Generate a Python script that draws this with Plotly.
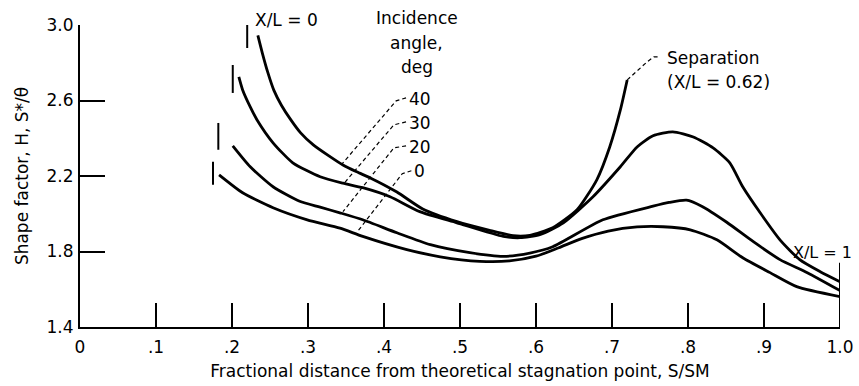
import plotly.graph_objects as go

FONT = "DejaVu Sans, sans-serif"
FS = 17

# ---- data ----
s40 = [0.234, 0.240, 0.247, 0.255, 0.265, 0.277, 0.290, 0.307, 0.328, 0.346, 0.364, 0.382,
       0.417, 0.451, 0.496, 0.539, 0.570, 0.592, 0.622, 0.654, 0.680, 0.697, 0.711, 0.720]
h40 = [2.945, 2.850, 2.750, 2.655, 2.575, 2.500, 2.430, 2.365, 2.305, 2.258, 2.222, 2.190,
       2.115, 2.025, 1.958, 1.912, 1.884, 1.886, 1.926, 2.021, 2.180, 2.354, 2.550, 2.709]

s30 = [0.209, 0.214, 0.224, 0.233, 0.254, 0.280, 0.316, 0.346, 0.372, 0.408, 0.447, 0.496,
       0.557, 0.579, 0.605, 0.636, 0.675, 0.711, 0.733, 0.754, 0.780, 0.807, 0.833, 0.855,
       0.872, 0.895, 0.921, 0.947, 0.974, 1.000]
h30 = [2.725, 2.656, 2.566, 2.497, 2.376, 2.270, 2.196, 2.162, 2.138, 2.090, 2.011, 1.952,
       1.880, 1.873, 1.889, 1.952, 2.090, 2.249, 2.354, 2.413, 2.434, 2.407, 2.349, 2.270,
       2.143, 2.005, 1.862, 1.757, 1.693, 1.640]

s20 = [0.201, 0.224, 0.254, 0.289, 0.316, 0.342, 0.372, 0.417, 0.461, 0.513, 0.557, 0.592,
       0.622, 0.688, 0.754, 0.775, 0.798, 0.818, 0.851, 0.886, 0.921, 0.957, 1.000]
h20 = [2.360, 2.249, 2.143, 2.066, 2.035, 2.005, 1.968, 1.899, 1.836, 1.794, 1.774, 1.792,
       1.825, 1.968, 2.040, 2.060, 2.072, 2.040, 1.955, 1.852, 1.757, 1.688, 1.593]

s0 = [0.183, 0.214, 0.254, 0.299, 0.342, 0.372, 0.430, 0.474, 0.526, 0.565, 0.600, 0.630,
      0.660, 0.695, 0.733, 0.767, 0.803, 0.838, 0.872, 0.908, 0.943, 1.000]
h0 = [2.206, 2.111, 2.032, 1.968, 1.924, 1.880, 1.810, 1.772, 1.748, 1.750, 1.775, 1.820,
      1.868, 1.908, 1.930, 1.931, 1.915, 1.862, 1.767, 1.688, 1.614, 1.561]

# X/L = 0 start markers (one per curve) and X/L = 1 marker
start_s = [0.220, 0.201, 0.182, 0.175]
start_lo = [2.878, 2.640, 2.339, 2.153]
start_hi = [3.011, 2.788, 2.481, 2.275]
end_s = [1.0]
end_lo = [1.40]
end_hi = [1.741]

incidence_labels = ["40", "30", "20", "0"]

x_tickvals = [0, 0.1, 0.2, 0.3, 0.4, 0.5, 0.6, 0.7, 0.8, 0.9, 1.0]
x_ticktext = ["0", ".1", ".2", ".3", ".4", ".5", ".6", ".7", ".8", ".9", "1.0"]
y_tickvals = [1.4, 1.8, 2.2, 2.6, 3.0]
y_ticktext = ["1.4", "1.8", "2.2", "2.6", "3.0"]

fig = go.Figure()

LW = 2.8
for s, h in [(s40, h40), (s30, h30), (s20, h20), (s0, h0)]:
    fig.add_trace(go.Scatter(x=s, y=h, mode="lines",
                             line=dict(color="black", width=LW, shape="spline", smoothing=0.6),
                             hoverinfo="skip", showlegend=False))

# vertical marker bars
bx, by = [], []
for x, lo, hi in zip(start_s + end_s, start_lo + end_lo, start_hi + end_hi):
    bx += [x, x, None]
    by += [lo, hi, None]
fig.add_trace(go.Scatter(x=bx, y=by, mode="lines", line=dict(color="black", width=2),
                         hoverinfo="skip", showlegend=False, cliponaxis=False))

# dashed leaders
leaders = [
    [(0.429, 2.614), (0.416, 2.598), (0.345, 2.265)],
    [(0.429, 2.487), (0.413, 2.471), (0.347, 2.159)],
    [(0.429, 2.360), (0.413, 2.349), (0.346, 2.011)],
    [(0.436, 2.228), (0.424, 2.212), (0.366, 1.910)],
]
sep_leader = [(0.720, 2.709), (0.746, 2.804), (0.755, 2.831), (0.763, 2.831)]
for pts in leaders + [sep_leader]:
    fig.add_trace(go.Scatter(x=[p[0] for p in pts], y=[p[1] for p in pts], mode="lines",
                             line=dict(color="black", width=1.2, dash="4px,3px"),
                             hoverinfo="skip", showlegend=False))

ann = []
def txt(x, y, t, xanchor="left", yref="y", xref="x", size=FS):
    if yref == "paper":
        y = (y - 1.4) / 1.6
    ann.append(dict(x=x, y=y, xref=xref, yref=yref, text=t, showarrow=False,
                    xanchor=xanchor, yanchor="middle",
                    font=dict(family=FONT, size=size, color="black")))

label_y = [2.608, 2.481, 2.354, 2.228]
label_x = [0.430, 0.430, 0.430, 0.437]
for lx, ly, lab in zip(label_x, label_y, incidence_labels):
    txt(lx, ly, lab)

txt(0.443, 3.037, "Incidence", "center", yref="paper")
txt(0.443, 2.905, "angle,", "center")
txt(0.443, 2.778, "deg", "center")
txt(0.228, 3.026, "X/L = 0", yref="paper")
txt(0.770, 2.825, "Separation")
txt(0.770, 2.698, "(X/L = 0.62)")
txt(1.019, 1.794, "X/L = 1", xanchor="right", xref="paper", size=16)

fig.update_layout(
    width=859, height=386,
    margin=dict(l=80, r=19, t=25, b=59),
    paper_bgcolor="white", plot_bgcolor="white",
    font=dict(family=FONT, size=FS, color="black"),
    annotations=ann,
    xaxis=dict(range=[0, 1.0], tickvals=x_tickvals, ticktext=x_ticktext,
               ticks="inside", ticklen=24, tickwidth=2, tickcolor="black",
               showline=True, linewidth=2, linecolor="black", showgrid=False,
               zeroline=False, ticklabelstandoff=4, automargin=False,
               title=dict(text="Fractional distance from theoretical stagnation point, S/SM",
                          standoff=9, font=dict(size=FS))),
    yaxis=dict(range=[1.4, 3.0], tickvals=y_tickvals, ticktext=y_ticktext,
               ticks="inside", ticklen=25, tickwidth=2, tickcolor="black",
               showline=True, linewidth=2, linecolor="black", showgrid=False,
               zeroline=False, ticklabelstandoff=1, automargin=False,
               title=dict(text="Shape factor, H, S*/θ", standoff=14, font=dict(size=FS))),
)

fig.write_html("out.html")
